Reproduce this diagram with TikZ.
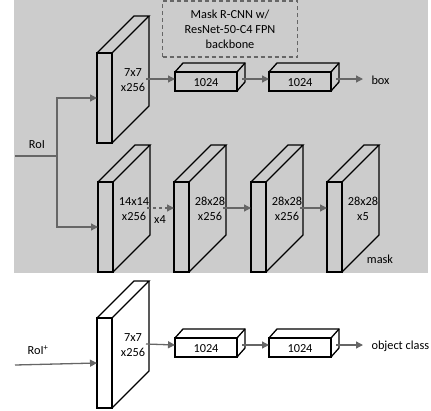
\documentclass[tikz,border=0pt]{standalone}
\usepackage{fontspec}
\setmainfont{Carlito}
\usetikzlibrary{arrows.meta}
\definecolor{panelgray}{HTML}{CCCCCC}
\definecolor{wiregray}{HTML}{666666}

% big feature block: name, x, y of front top-left corner, label
\newcommand{\slab}[4]{
  \draw[blk] (#2,#3) rectangle ++(15,90);
  \draw[blk] (#2,#3) -- ++(37,-37) -- ++(15,0) -- ++(-37,37);
  \draw[blk] (#2+52,#3-37) -- ++(0,90) -- ++(-37,37);
  \node[lbl] (#1) at (#2+36,#3+27) {#4};
  \coordinate (#1-in) at (#2,#3+26);
  \coordinate (#1-mid) at (#2,#3+45);
  \coordinate (#1-out) at (#2+49,#3+26);}
% fc layer box: name, x, y of front top-left corner
\newcommand{\fcbox}[3]{
  \draw[blk] (#2,#3) rectangle ++(62,19);
  \draw[blk] (#2,#3) -- ++(8,-9) -- ++(62,0) -- ++(0,19) -- ++(-8,9);
  \draw[blk] (#2+62,#3) -- ++(8,-9);
  \node[lbl] (#1) at (#2+31,#3+11) {1024};
  \coordinate (#1-in) at (#2,#3+7);
  \coordinate (#1-out) at (#2+67,#3+7);}

\begin{document}
\begin{tikzpicture}[x=1pt,y=-1pt,font=\fontsize{12.3}{15}\selectfont,
  blk/.style={draw=black,line width=1.3pt,line join=miter},
  lbl/.style={inner sep=0pt,align=center},
  wire/.style={draw=wiregray,line width=1.3pt,-{Triangle[length=7pt,width=7pt]}},
  notebox/.style={draw=wiregray,line width=1.2pt,dash pattern=on 4pt off 3pt,
    minimum width=135pt,minimum height=56pt,align=center,inner sep=0pt}]
\useasboundingbox (0,0) rectangle (431,410);
\fill[panelgray] (14,0) rectangle (428,273);

% Mask R-CNN head
\node[notebox] (note) at (230,29) {Mask R-CNN w/\\ResNet-50-C4 FPN\\backbone};
\slab{b1}{97}{53}{7x7\\x256}
\fcbox{f1}{175}{72}
\fcbox{f2}{269}{72}
\coordinate (box-e) at (363,79);
\node[anchor=west] (box) at (368,80) {box};

\slab{m1}{98}{182}{14x14\\x256}
\slab{m2}{174}{182}{28x28\\x256}
\slab{m3}{251}{182}{28x28\\x256}
\slab{m4}{327}{182}{28x28\\x5}
\node (x4) at (160,220) {x4};
\node (mask) at (380,259) {mask};

\node (roi) at (37,145) {RoI};
\coordinate (roi-w) at (15,156);
\coordinate (split) at (57,156);
\draw[wire,-] (roi-w) -- (split);
\draw[wire] (split) |- (b1-mid);
\draw[wire] (split) |- (m1-mid);
\draw[wire] (b1-out) -- (f1-in);
\draw[wire] (f1-out) -- (f2-in);
\draw[wire] (f2-out) -- (box-e);
\draw[wire,dashed] (m1-out) -- (m2-in);
\draw[wire] (m2-out) -- (m3-in);
\draw[wire] (m3-out) -- (m4-in);

% Fast R-CNN head
\slab{c1}{97}{318}{7x7\\x256}
\fcbox{g1}{175}{338}
\fcbox{g2}{269}{338}
\coordinate (cls-e) at (363,345);
\node[anchor=west] (cls) at (368,346) {object class};
\node (roip) at (38,350) {RoI\textsuperscript{+}};
\coordinate (roip-w) at (15,365);
\draw[wire] (roip-w) -- (c1-mid);
\draw[wire] (c1-out) -- (g1-in);
\draw[wire] (g1-out) -- (g2-in);
\draw[wire] (g2-out) -- (cls-e);
\end{tikzpicture}
\end{document}
